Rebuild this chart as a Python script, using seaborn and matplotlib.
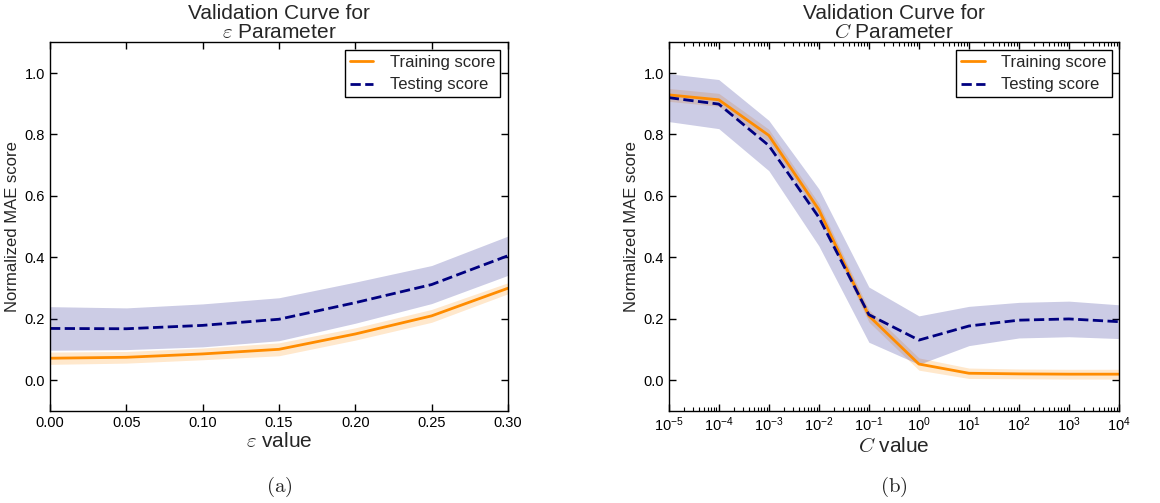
import numpy as np
import pandas as pd
import matplotlib
matplotlib.use('Agg')
import matplotlib.pyplot as plt
from matplotlib.ticker import LogLocator
import seaborn as sns

# epsilon curve
eps_values = [0.0, 0.05, 0.10, 0.15, 0.20, 0.25, 0.30]
eps_train_mean = [0.071, 0.074, 0.085, 0.100, 0.150, 0.209, 0.299]
eps_train_std = [0.020, 0.019, 0.019, 0.021, 0.020, 0.021, 0.018]
eps_test_mean = [0.168, 0.167, 0.178, 0.198, 0.252, 0.311, 0.405]
eps_test_std = [0.071, 0.068, 0.070, 0.070, 0.067, 0.062, 0.064]

# C curve
c_values = [1e-5, 1e-4, 1e-3, 1e-2, 1e-1, 1e0, 1e1, 1e2, 1e3, 1e4]
c_train_mean = [0.929, 0.913, 0.797, 0.555, 0.209, 0.052, 0.022, 0.020, 0.019, 0.019]
c_train_std = [0.021, 0.021, 0.020, 0.020, 0.020, 0.020, 0.017, 0.016, 0.016, 0.016]
c_test_mean = [0.920, 0.899, 0.764, 0.530, 0.213, 0.130, 0.176, 0.195, 0.199, 0.190]
c_test_std = [0.078, 0.080, 0.082, 0.093, 0.090, 0.079, 0.064, 0.058, 0.058, 0.055]

sns.set_style('white')
plt.rcParams['font.family'] = ['Liberation Sans', 'DejaVu Sans']
# sans maths for tick labels, Computer Modern picked per text below
plt.rcParams['mathtext.fontset'] = 'custom'
plt.rcParams['mathtext.rm'] = 'Liberation Sans'
plt.rcParams['mathtext.it'] = 'Liberation Sans:italic'
plt.rcParams['mathtext.sf'] = 'Liberation Sans'
plt.rcParams['axes.edgecolor'] = 'black'
plt.rcParams['axes.linewidth'] = 1.0
plt.rcParams['xtick.direction'] = 'in'
plt.rcParams['ytick.direction'] = 'in'
plt.rcParams['xtick.top'] = True
plt.rcParams['ytick.right'] = True
plt.rcParams['xtick.bottom'] = True
plt.rcParams['ytick.left'] = True
plt.rcParams['xtick.major.size'] = 5
plt.rcParams['ytick.major.size'] = 5
plt.rcParams['xtick.minor.size'] = 3
plt.rcParams['xtick.minor.width'] = 0.8
plt.rcParams['xtick.color'] = 'black'
plt.rcParams['ytick.color'] = 'black'


def draw_curve(ax, x, train_m, train_s, test_m, test_s):
    df = pd.DataFrame({'x': x, 'train': train_m, 'test': test_m})
    train_m = np.array(train_m)
    train_s = np.array(train_s)
    test_m = np.array(test_m)
    test_s = np.array(test_s)
    sns.lineplot(data=df, x='x', y='train', ax=ax, color='darkorange', lw=2,
                 label='Training score')
    ax.fill_between(x, train_m - train_s, train_m + train_s, color='darkorange',
                    alpha=0.2, lw=0)
    sns.lineplot(data=df, x='x', y='test', ax=ax, color='navy', lw=2,
                 linestyle='--', label='Testing score')
    ax.fill_between(x, test_m - test_s, test_m + test_s, color='navy',
                    alpha=0.2, lw=0)
    ax.set_ylim(-0.1, 1.1)
    ax.set_yticks([0.0, 0.2, 0.4, 0.6, 0.8, 1.0])
    ax.set_ylabel('Normalized MAE score', fontsize=12, labelpad=3)
    ax.tick_params(labelsize=10.5, width=1)
    leg = ax.legend(loc='upper right', fontsize=12, fancybox=False,
                    framealpha=1, borderaxespad=0.45, borderpad=0.3,
                    handlelength=1.4, handletextpad=1.0, labelspacing=0.45)
    leg.get_frame().set_edgecolor('black')
    leg.get_frame().set_linewidth(1.0)


fig = plt.figure(figsize=(11.6, 5.03), dpi=100)
ax1 = fig.add_axes([0.0431, 0.1835, 0.3948, 0.7322])
ax2 = fig.add_axes([0.5765, 0.1835, 0.3882, 0.7322])

draw_curve(ax1, eps_values, eps_train_mean, eps_train_std, eps_test_mean, eps_test_std)
ax1.set_xlim(0, 0.3)
ax1.set_xticks(eps_values)
ax1.set_xticklabels(['%.2f' % v for v in eps_values])
ax1.set_title('Validation Curve for\n$\\varepsilon$ Parameter', fontsize=15,
              linespacing=1.0, pad=3, math_fontfamily='cm')
ax1.set_xlabel('$\\varepsilon$ value', fontsize=15, labelpad=2,
               math_fontfamily='cm')

draw_curve(ax2, c_values, c_train_mean, c_train_std, c_test_mean, c_test_std)
ax2.set_xscale('log')
ax2.set_xlim(1e-5, 1e4)
ax2.set_xticks(c_values)
ax2.xaxis.set_minor_locator(LogLocator(base=10, subs=range(2, 10), numticks=100))
ax2.tick_params(axis='x', which='minor', length=3, top=True, bottom=True)
ax2.set_title('Validation Curve for\n$C$ Parameter', fontsize=15,
              linespacing=1.0, pad=3, math_fontfamily='cm')
ax2.set_xlabel('$C$ value', fontsize=15, labelpad=2, math_fontfamily='cm')

fig.text(0.2405, 0.032, '$\\mathrm{(a)}$', ha='center', va='center',
         fontsize=15, math_fontfamily='cm')
fig.text(0.7706, 0.032, '$\\mathrm{(b)}$', ha='center', va='center',
         fontsize=15, math_fontfamily='cm')

fig.savefig('out.png', dpi=100)
